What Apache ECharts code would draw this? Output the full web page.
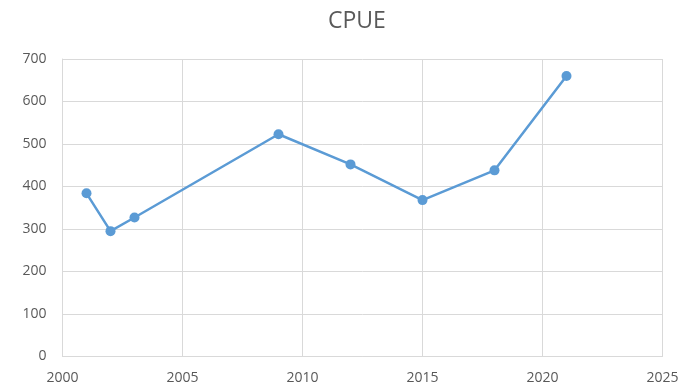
<!DOCTYPE html>
<html>
<head>
<meta charset="utf-8">
<script src="https://cdn.jsdelivr.net/npm/echarts@6/dist/echarts.min.js"></script>
<style>
  html, body { margin: 0; padding: 0; background: #fff; }
  #chart { width: 689px; height: 390px; }
</style>
</head>
<body>
<div id="chart"></div>
<script>
// CPUE by survey year
const years = [2001, 2002, 2003, 2009, 2012, 2015, 2018, 2021];
const cpue = [384, 295, 327, 523, 452, 368, 438, 660];

const chart = echarts.init(document.getElementById('chart'), null, { renderer: 'canvas' });

const textColor = '#595959';
const gridColor = '#d9d9d9';
const font = '"Open Sans", "Liberation Sans", sans-serif';

chart.setOption({
  animation: false,
  backgroundColor: '#ffffff',
  title: {
    text: 'CPUE',
    left: 323,
    top: 5,
    textStyle: { color: textColor, fontSize: 23, fontWeight: 'normal', fontFamily: font }
  },
  grid: { left: 62.5, right: 26.5, top: 59, bottom: 33.5 },
  xAxis: {
    type: 'value',
    min: 2000,
    max: 2025,
    interval: 5,
    axisLine: { show: true, lineStyle: { color: gridColor, width: 1 } },
    axisTick: { show: false },
    axisLabel: {
      color: textColor, fontSize: 14, fontFamily: font, margin: 15,
      formatter: v => String(v)
    },
    splitLine: { show: true, lineStyle: { color: gridColor, width: 1 } }
  },
  yAxis: {
    type: 'value',
    min: 0,
    max: 700,
    interval: 100,
    axisLine: { show: true, lineStyle: { color: gridColor, width: 1 } },
    axisTick: { show: false },
    axisLabel: { color: textColor, fontSize: 14, fontFamily: font, margin: 16 },
    splitLine: { show: true, lineStyle: { color: gridColor, width: 1 } }
  },
  series: [{
    type: 'line',
    data: years.map((y, i) => [y, cpue[i]]),
    symbol: 'circle',
    symbolSize: 10,
    lineStyle: { color: '#5b9bd5', width: 2.5 },
    itemStyle: { color: '#5b9bd5' }
  }]
});
</script>
</body>
</html>
